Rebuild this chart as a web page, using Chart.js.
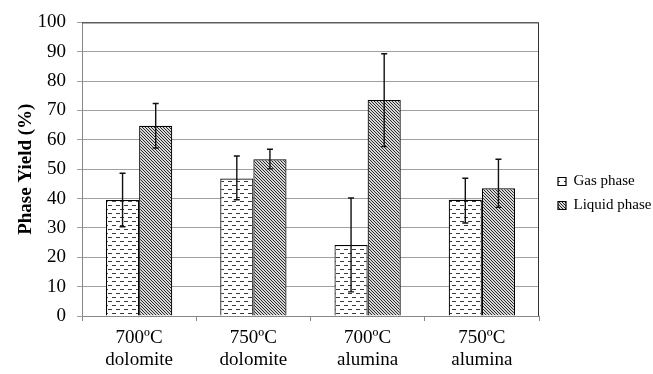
<!DOCTYPE html>
<html>
<head>
<meta charset="utf-8">
<script src="https://cdn.jsdelivr.net/npm/chart.js@4.4.1/dist/chart.umd.min.js"></script>
<style>
  body { margin: 0; background: #fff; }
</style>
</head>
<body>
<canvas id="yieldChart" width="653" height="374"></canvas>
<script>
// categories and values
const categories = [['700ºC', 'dolomite'], ['750ºC', 'dolomite'], ['700ºC', 'alumina'], ['750ºC', 'alumina']];
const seriesNames = ['Gas phase', 'Liquid phase'];
const gasYield = [39.5, 46.8, 24.2, 39.6];
const liquidYield = [64.8, 53.4, 73.6, 43.5];
const gasErrLow = [30.4, 39.6, 8.2, 31.7];
const gasErrHigh = [48.6, 54.5, 40.2, 46.9];
const liquidErrLow = [57.2, 50.1, 57.7, 37.0];
const liquidErrHigh = [72.4, 56.8, 89.3, 53.4];
const yTicks = [0, 10, 20, 30, 40, 50, 60, 70, 80, 90, 100];

const FONT = '"Liberation Serif", "Times New Roman", serif';

// fill patterns like the excel ones
function dashPattern() {
    const c = document.createElement('canvas');
    c.width = 8; c.height = 8;
    const g = c.getContext('2d');
    g.fillStyle = '#fff';
    g.fillRect(0, 0, 8, 8);
    g.fillStyle = '#3a3a3a';
    g.fillRect(0, 1, 4, 1);
    g.fillRect(4, 5, 4, 1);
    return g.createPattern(c, 'repeat');
}

function hatchPattern() {
    const c = document.createElement('canvas');
    c.width = 3; c.height = 3;
    const g = c.getContext('2d');
    g.fillStyle = '#d8d8d8';
    g.fillRect(0, 0, 3, 3);
    g.fillStyle = '#2a2a2a';
    for (let i = 0; i < 3; i++) g.fillRect(i, i, 1, 1);
    return g.createPattern(c, 'repeat');
}

const errorBars = {
    id: 'errorBars',
    afterDatasetsDraw(chart) {
        const ctx = chart.ctx;
        const y = chart.scales.y;
        ctx.save();
        ctx.strokeStyle = '#111';
        ctx.lineWidth = 1.4;
        chart.data.datasets.forEach((ds, di) => {
            const meta = chart.getDatasetMeta(di);
            meta.data.forEach((bar, i) => {
                const top = y.getPixelForValue(ds.errHigh[i]);
                const bot = y.getPixelForValue(ds.errLow[i]);
                ctx.beginPath();
                ctx.moveTo(bar.x, top); ctx.lineTo(bar.x, bot);
                ctx.moveTo(bar.x - 3, top); ctx.lineTo(bar.x + 3, top);
                ctx.moveTo(bar.x - 3, bot); ctx.lineTo(bar.x + 3, bot);
                ctx.stroke();
            });
        });
        ctx.restore();
    }
};

const plotBorder = {
    id: 'plotBorder',
    beforeDatasetsDraw(chart) {
        const a = chart.chartArea;
        const ctx = chart.ctx;
        ctx.save();
        ctx.strokeStyle = '#333';
        ctx.lineWidth = 1;
        ctx.beginPath();
        ctx.moveTo(a.left, a.top + 0.5);
        ctx.lineTo(a.right - 0.5, a.top + 0.5);
        ctx.lineTo(a.right - 0.5, a.bottom);
        ctx.stroke();
        ctx.restore();
    }
};

new Chart(document.getElementById('yieldChart').getContext('2d'), {
    type: 'bar',
    data: {
        labels: categories,
        datasets: [{
            label: seriesNames[0],
            data: gasYield,
            errLow: gasErrLow,
            errHigh: gasErrHigh,
            backgroundColor: dashPattern(),
            borderColor: '#000',
            borderWidth: 1.2
        }, {
            label: seriesNames[1],
            data: liquidYield,
            errLow: liquidErrLow,
            errHigh: liquidErrHigh,
            backgroundColor: hatchPattern(),
            borderColor: '#000',
            borderWidth: 1.2
        }]
    },
    options: {
        responsive: false,
        animation: false,
        categoryPercentage: 0.58,
        barPercentage: 1.0,
        layout: { padding: { top: 19, right: 0, left: 0, bottom: 6 } },
        plugins: {
            tooltip: { enabled: false },
            legend: {
                position: 'right',
                maxWidth: 104,
                labels: {
                    boxWidth: 8,
                    boxHeight: 8,
                    padding: 9,
                    color: '#000',
                    font: { family: FONT, size: 15 }
                }
            }
        },
        scales: {
            x: {
                grid: { drawOnChartArea: false, drawTicks: true, tickLength: 5, offset: true, color: '#888' },
                border: { color: '#888' },
                ticks: { color: '#000', padding: 6, font: { family: FONT, size: 19, lineHeight: 1.15 }, maxRotation: 0 },
                afterFit(s) { s.height = 52; }
            },
            y: {
                min: 0,
                max: 100,
                afterBuildTicks(s) { s.ticks = yTicks.map(v => ({ value: v })); },
                grid: { color: '#a0a0a0', tickLength: 5 },
                border: { color: '#888' },
                ticks: { color: '#000', padding: 11, font: { family: FONT, size: 19 } },
                title: { display: true, text: 'Phase Yield (%)', color: '#000', font: { family: FONT, size: 19, weight: 'bold' }, padding: { top: 15, bottom: 0 } },
                afterFit(s) { s.width = 82; }
            },
            spacer: {
                type: 'linear',
                position: 'right',
                grid: { display: false, drawTicks: false },
                ticks: { display: false },
                border: { display: false },
                afterFit(s) { s.width = 10; }
            }
        }
    },
    plugins: [errorBars, plotBorder]
});
</script>
</body>
</html>
